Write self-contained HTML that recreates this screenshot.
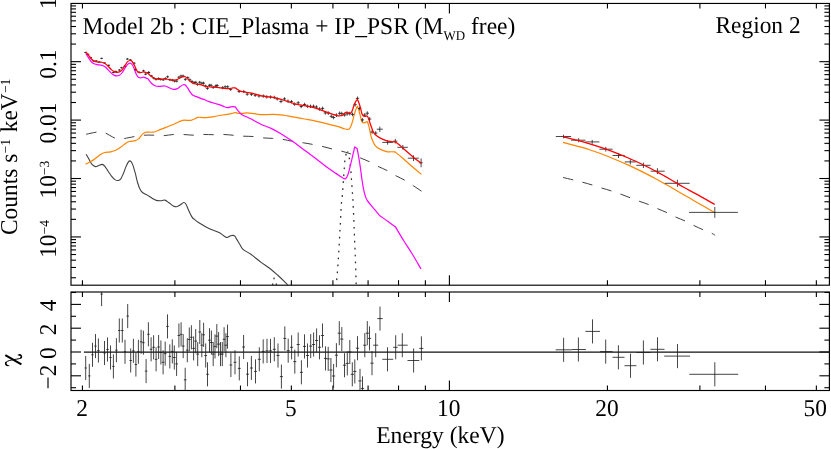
<!DOCTYPE html>
<html><head><meta charset="utf-8"><title>Spectrum</title>
<style>
html,body{margin:0;padding:0;background:#fff;}
svg{display:block;font-family:"Liberation Serif",serif;will-change:transform;opacity:0.999;}
</style></head>
<body>
<svg width="831" height="449" viewBox="0 0 831 449">
<rect x="0" y="0" width="831" height="449" fill="#fff"/>
<rect x="71.0" y="3.45" width="758.40" height="281.75" fill="none" stroke="#000" stroke-width="1.15"/>
<rect x="71.0" y="292.0" width="758.40" height="98.50" fill="none" stroke="#000" stroke-width="1.15"/>
<line x1="82.44" y1="3.45" x2="82.44" y2="8.45" stroke="#000" stroke-width="1.1" />
<line x1="82.44" y1="285.20" x2="82.44" y2="280.20" stroke="#000" stroke-width="1.1" />
<line x1="82.44" y1="292.00" x2="82.44" y2="297.00" stroke="#000" stroke-width="1.1" />
<line x1="82.44" y1="390.50" x2="82.44" y2="385.50" stroke="#000" stroke-width="1.1" />
<line x1="174.89" y1="3.45" x2="174.89" y2="8.45" stroke="#000" stroke-width="1.1" />
<line x1="174.89" y1="285.20" x2="174.89" y2="280.20" stroke="#000" stroke-width="1.1" />
<line x1="174.89" y1="292.00" x2="174.89" y2="297.00" stroke="#000" stroke-width="1.1" />
<line x1="174.89" y1="390.50" x2="174.89" y2="385.50" stroke="#000" stroke-width="1.1" />
<line x1="240.48" y1="3.45" x2="240.48" y2="8.45" stroke="#000" stroke-width="1.1" />
<line x1="240.48" y1="285.20" x2="240.48" y2="280.20" stroke="#000" stroke-width="1.1" />
<line x1="240.48" y1="292.00" x2="240.48" y2="297.00" stroke="#000" stroke-width="1.1" />
<line x1="240.48" y1="390.50" x2="240.48" y2="385.50" stroke="#000" stroke-width="1.1" />
<line x1="291.36" y1="3.45" x2="291.36" y2="8.45" stroke="#000" stroke-width="1.1" />
<line x1="291.36" y1="285.20" x2="291.36" y2="280.20" stroke="#000" stroke-width="1.1" />
<line x1="291.36" y1="292.00" x2="291.36" y2="297.00" stroke="#000" stroke-width="1.1" />
<line x1="291.36" y1="390.50" x2="291.36" y2="385.50" stroke="#000" stroke-width="1.1" />
<line x1="332.93" y1="3.45" x2="332.93" y2="8.45" stroke="#000" stroke-width="1.1" />
<line x1="332.93" y1="285.20" x2="332.93" y2="280.20" stroke="#000" stroke-width="1.1" />
<line x1="332.93" y1="292.00" x2="332.93" y2="297.00" stroke="#000" stroke-width="1.1" />
<line x1="332.93" y1="390.50" x2="332.93" y2="385.50" stroke="#000" stroke-width="1.1" />
<line x1="368.08" y1="3.45" x2="368.08" y2="8.45" stroke="#000" stroke-width="1.1" />
<line x1="368.08" y1="285.20" x2="368.08" y2="280.20" stroke="#000" stroke-width="1.1" />
<line x1="368.08" y1="292.00" x2="368.08" y2="297.00" stroke="#000" stroke-width="1.1" />
<line x1="368.08" y1="390.50" x2="368.08" y2="385.50" stroke="#000" stroke-width="1.1" />
<line x1="398.52" y1="3.45" x2="398.52" y2="8.45" stroke="#000" stroke-width="1.1" />
<line x1="398.52" y1="285.20" x2="398.52" y2="280.20" stroke="#000" stroke-width="1.1" />
<line x1="398.52" y1="292.00" x2="398.52" y2="297.00" stroke="#000" stroke-width="1.1" />
<line x1="398.52" y1="390.50" x2="398.52" y2="385.50" stroke="#000" stroke-width="1.1" />
<line x1="425.38" y1="3.45" x2="425.38" y2="8.45" stroke="#000" stroke-width="1.1" />
<line x1="425.38" y1="285.20" x2="425.38" y2="280.20" stroke="#000" stroke-width="1.1" />
<line x1="425.38" y1="292.00" x2="425.38" y2="297.00" stroke="#000" stroke-width="1.1" />
<line x1="425.38" y1="390.50" x2="425.38" y2="385.50" stroke="#000" stroke-width="1.1" />
<line x1="449.40" y1="3.45" x2="449.40" y2="13.45" stroke="#000" stroke-width="1.1" />
<line x1="449.40" y1="285.20" x2="449.40" y2="275.20" stroke="#000" stroke-width="1.1" />
<line x1="449.40" y1="292.00" x2="449.40" y2="302.00" stroke="#000" stroke-width="1.1" />
<line x1="449.40" y1="390.50" x2="449.40" y2="380.50" stroke="#000" stroke-width="1.1" />
<line x1="607.44" y1="3.45" x2="607.44" y2="8.45" stroke="#000" stroke-width="1.1" />
<line x1="607.44" y1="285.20" x2="607.44" y2="280.20" stroke="#000" stroke-width="1.1" />
<line x1="607.44" y1="292.00" x2="607.44" y2="297.00" stroke="#000" stroke-width="1.1" />
<line x1="607.44" y1="390.50" x2="607.44" y2="385.50" stroke="#000" stroke-width="1.1" />
<line x1="699.89" y1="3.45" x2="699.89" y2="8.45" stroke="#000" stroke-width="1.1" />
<line x1="699.89" y1="285.20" x2="699.89" y2="280.20" stroke="#000" stroke-width="1.1" />
<line x1="699.89" y1="292.00" x2="699.89" y2="297.00" stroke="#000" stroke-width="1.1" />
<line x1="699.89" y1="390.50" x2="699.89" y2="385.50" stroke="#000" stroke-width="1.1" />
<line x1="765.48" y1="3.45" x2="765.48" y2="8.45" stroke="#000" stroke-width="1.1" />
<line x1="765.48" y1="285.20" x2="765.48" y2="280.20" stroke="#000" stroke-width="1.1" />
<line x1="765.48" y1="292.00" x2="765.48" y2="297.00" stroke="#000" stroke-width="1.1" />
<line x1="765.48" y1="390.50" x2="765.48" y2="385.50" stroke="#000" stroke-width="1.1" />
<line x1="816.36" y1="3.45" x2="816.36" y2="8.45" stroke="#000" stroke-width="1.1" />
<line x1="816.36" y1="285.20" x2="816.36" y2="280.20" stroke="#000" stroke-width="1.1" />
<line x1="816.36" y1="292.00" x2="816.36" y2="297.00" stroke="#000" stroke-width="1.1" />
<line x1="816.36" y1="390.50" x2="816.36" y2="385.50" stroke="#000" stroke-width="1.1" />
<line x1="71.00" y1="61.67" x2="81.00" y2="61.67" stroke="#000" stroke-width="1.1" />
<line x1="829.40" y1="61.67" x2="819.40" y2="61.67" stroke="#000" stroke-width="1.1" />
<line x1="71.00" y1="44.08" x2="76.00" y2="44.08" stroke="#000" stroke-width="1.1" />
<line x1="829.40" y1="44.08" x2="824.40" y2="44.08" stroke="#000" stroke-width="1.1" />
<line x1="71.00" y1="33.80" x2="76.00" y2="33.80" stroke="#000" stroke-width="1.1" />
<line x1="829.40" y1="33.80" x2="824.40" y2="33.80" stroke="#000" stroke-width="1.1" />
<line x1="71.00" y1="26.50" x2="76.00" y2="26.50" stroke="#000" stroke-width="1.1" />
<line x1="829.40" y1="26.50" x2="824.40" y2="26.50" stroke="#000" stroke-width="1.1" />
<line x1="71.00" y1="20.84" x2="76.00" y2="20.84" stroke="#000" stroke-width="1.1" />
<line x1="829.40" y1="20.84" x2="824.40" y2="20.84" stroke="#000" stroke-width="1.1" />
<line x1="71.00" y1="16.21" x2="76.00" y2="16.21" stroke="#000" stroke-width="1.1" />
<line x1="829.40" y1="16.21" x2="824.40" y2="16.21" stroke="#000" stroke-width="1.1" />
<line x1="71.00" y1="12.30" x2="76.00" y2="12.30" stroke="#000" stroke-width="1.1" />
<line x1="829.40" y1="12.30" x2="824.40" y2="12.30" stroke="#000" stroke-width="1.1" />
<line x1="71.00" y1="8.91" x2="76.00" y2="8.91" stroke="#000" stroke-width="1.1" />
<line x1="829.40" y1="8.91" x2="824.40" y2="8.91" stroke="#000" stroke-width="1.1" />
<line x1="71.00" y1="5.92" x2="76.00" y2="5.92" stroke="#000" stroke-width="1.1" />
<line x1="829.40" y1="5.92" x2="824.40" y2="5.92" stroke="#000" stroke-width="1.1" />
<line x1="71.00" y1="120.09" x2="81.00" y2="120.09" stroke="#000" stroke-width="1.1" />
<line x1="829.40" y1="120.09" x2="819.40" y2="120.09" stroke="#000" stroke-width="1.1" />
<line x1="71.00" y1="102.50" x2="76.00" y2="102.50" stroke="#000" stroke-width="1.1" />
<line x1="829.40" y1="102.50" x2="824.40" y2="102.50" stroke="#000" stroke-width="1.1" />
<line x1="71.00" y1="92.22" x2="76.00" y2="92.22" stroke="#000" stroke-width="1.1" />
<line x1="829.40" y1="92.22" x2="824.40" y2="92.22" stroke="#000" stroke-width="1.1" />
<line x1="71.00" y1="84.92" x2="76.00" y2="84.92" stroke="#000" stroke-width="1.1" />
<line x1="829.40" y1="84.92" x2="824.40" y2="84.92" stroke="#000" stroke-width="1.1" />
<line x1="71.00" y1="79.26" x2="76.00" y2="79.26" stroke="#000" stroke-width="1.1" />
<line x1="829.40" y1="79.26" x2="824.40" y2="79.26" stroke="#000" stroke-width="1.1" />
<line x1="71.00" y1="74.63" x2="76.00" y2="74.63" stroke="#000" stroke-width="1.1" />
<line x1="829.40" y1="74.63" x2="824.40" y2="74.63" stroke="#000" stroke-width="1.1" />
<line x1="71.00" y1="70.72" x2="76.00" y2="70.72" stroke="#000" stroke-width="1.1" />
<line x1="829.40" y1="70.72" x2="824.40" y2="70.72" stroke="#000" stroke-width="1.1" />
<line x1="71.00" y1="67.33" x2="76.00" y2="67.33" stroke="#000" stroke-width="1.1" />
<line x1="829.40" y1="67.33" x2="824.40" y2="67.33" stroke="#000" stroke-width="1.1" />
<line x1="71.00" y1="64.34" x2="76.00" y2="64.34" stroke="#000" stroke-width="1.1" />
<line x1="829.40" y1="64.34" x2="824.40" y2="64.34" stroke="#000" stroke-width="1.1" />
<line x1="71.00" y1="178.51" x2="81.00" y2="178.51" stroke="#000" stroke-width="1.1" />
<line x1="829.40" y1="178.51" x2="819.40" y2="178.51" stroke="#000" stroke-width="1.1" />
<line x1="71.00" y1="160.92" x2="76.00" y2="160.92" stroke="#000" stroke-width="1.1" />
<line x1="829.40" y1="160.92" x2="824.40" y2="160.92" stroke="#000" stroke-width="1.1" />
<line x1="71.00" y1="150.64" x2="76.00" y2="150.64" stroke="#000" stroke-width="1.1" />
<line x1="829.40" y1="150.64" x2="824.40" y2="150.64" stroke="#000" stroke-width="1.1" />
<line x1="71.00" y1="143.34" x2="76.00" y2="143.34" stroke="#000" stroke-width="1.1" />
<line x1="829.40" y1="143.34" x2="824.40" y2="143.34" stroke="#000" stroke-width="1.1" />
<line x1="71.00" y1="137.68" x2="76.00" y2="137.68" stroke="#000" stroke-width="1.1" />
<line x1="829.40" y1="137.68" x2="824.40" y2="137.68" stroke="#000" stroke-width="1.1" />
<line x1="71.00" y1="133.05" x2="76.00" y2="133.05" stroke="#000" stroke-width="1.1" />
<line x1="829.40" y1="133.05" x2="824.40" y2="133.05" stroke="#000" stroke-width="1.1" />
<line x1="71.00" y1="129.14" x2="76.00" y2="129.14" stroke="#000" stroke-width="1.1" />
<line x1="829.40" y1="129.14" x2="824.40" y2="129.14" stroke="#000" stroke-width="1.1" />
<line x1="71.00" y1="125.75" x2="76.00" y2="125.75" stroke="#000" stroke-width="1.1" />
<line x1="829.40" y1="125.75" x2="824.40" y2="125.75" stroke="#000" stroke-width="1.1" />
<line x1="71.00" y1="122.76" x2="76.00" y2="122.76" stroke="#000" stroke-width="1.1" />
<line x1="829.40" y1="122.76" x2="824.40" y2="122.76" stroke="#000" stroke-width="1.1" />
<line x1="71.00" y1="236.93" x2="81.00" y2="236.93" stroke="#000" stroke-width="1.1" />
<line x1="829.40" y1="236.93" x2="819.40" y2="236.93" stroke="#000" stroke-width="1.1" />
<line x1="71.00" y1="219.34" x2="76.00" y2="219.34" stroke="#000" stroke-width="1.1" />
<line x1="829.40" y1="219.34" x2="824.40" y2="219.34" stroke="#000" stroke-width="1.1" />
<line x1="71.00" y1="209.06" x2="76.00" y2="209.06" stroke="#000" stroke-width="1.1" />
<line x1="829.40" y1="209.06" x2="824.40" y2="209.06" stroke="#000" stroke-width="1.1" />
<line x1="71.00" y1="201.76" x2="76.00" y2="201.76" stroke="#000" stroke-width="1.1" />
<line x1="829.40" y1="201.76" x2="824.40" y2="201.76" stroke="#000" stroke-width="1.1" />
<line x1="71.00" y1="196.10" x2="76.00" y2="196.10" stroke="#000" stroke-width="1.1" />
<line x1="829.40" y1="196.10" x2="824.40" y2="196.10" stroke="#000" stroke-width="1.1" />
<line x1="71.00" y1="191.47" x2="76.00" y2="191.47" stroke="#000" stroke-width="1.1" />
<line x1="829.40" y1="191.47" x2="824.40" y2="191.47" stroke="#000" stroke-width="1.1" />
<line x1="71.00" y1="187.56" x2="76.00" y2="187.56" stroke="#000" stroke-width="1.1" />
<line x1="829.40" y1="187.56" x2="824.40" y2="187.56" stroke="#000" stroke-width="1.1" />
<line x1="71.00" y1="184.17" x2="76.00" y2="184.17" stroke="#000" stroke-width="1.1" />
<line x1="829.40" y1="184.17" x2="824.40" y2="184.17" stroke="#000" stroke-width="1.1" />
<line x1="71.00" y1="181.18" x2="76.00" y2="181.18" stroke="#000" stroke-width="1.1" />
<line x1="829.40" y1="181.18" x2="824.40" y2="181.18" stroke="#000" stroke-width="1.1" />
<line x1="71.00" y1="277.76" x2="76.00" y2="277.76" stroke="#000" stroke-width="1.1" />
<line x1="829.40" y1="277.76" x2="824.40" y2="277.76" stroke="#000" stroke-width="1.1" />
<line x1="71.00" y1="267.48" x2="76.00" y2="267.48" stroke="#000" stroke-width="1.1" />
<line x1="829.40" y1="267.48" x2="824.40" y2="267.48" stroke="#000" stroke-width="1.1" />
<line x1="71.00" y1="260.18" x2="76.00" y2="260.18" stroke="#000" stroke-width="1.1" />
<line x1="829.40" y1="260.18" x2="824.40" y2="260.18" stroke="#000" stroke-width="1.1" />
<line x1="71.00" y1="254.52" x2="76.00" y2="254.52" stroke="#000" stroke-width="1.1" />
<line x1="829.40" y1="254.52" x2="824.40" y2="254.52" stroke="#000" stroke-width="1.1" />
<line x1="71.00" y1="249.89" x2="76.00" y2="249.89" stroke="#000" stroke-width="1.1" />
<line x1="829.40" y1="249.89" x2="824.40" y2="249.89" stroke="#000" stroke-width="1.1" />
<line x1="71.00" y1="245.98" x2="76.00" y2="245.98" stroke="#000" stroke-width="1.1" />
<line x1="829.40" y1="245.98" x2="824.40" y2="245.98" stroke="#000" stroke-width="1.1" />
<line x1="71.00" y1="242.59" x2="76.00" y2="242.59" stroke="#000" stroke-width="1.1" />
<line x1="829.40" y1="242.59" x2="824.40" y2="242.59" stroke="#000" stroke-width="1.1" />
<line x1="71.00" y1="239.60" x2="76.00" y2="239.60" stroke="#000" stroke-width="1.1" />
<line x1="829.40" y1="239.60" x2="824.40" y2="239.60" stroke="#000" stroke-width="1.1" />
<line x1="71.00" y1="387.70" x2="76.00" y2="387.70" stroke="#000" stroke-width="1.1" />
<line x1="829.40" y1="387.70" x2="824.40" y2="387.70" stroke="#000" stroke-width="1.1" />
<line x1="71.00" y1="375.80" x2="81.00" y2="375.80" stroke="#000" stroke-width="1.1" />
<line x1="829.40" y1="375.80" x2="819.40" y2="375.80" stroke="#000" stroke-width="1.1" />
<line x1="71.00" y1="363.90" x2="76.00" y2="363.90" stroke="#000" stroke-width="1.1" />
<line x1="829.40" y1="363.90" x2="824.40" y2="363.90" stroke="#000" stroke-width="1.1" />
<line x1="71.00" y1="352.00" x2="81.00" y2="352.00" stroke="#000" stroke-width="1.1" />
<line x1="829.40" y1="352.00" x2="819.40" y2="352.00" stroke="#000" stroke-width="1.1" />
<line x1="71.00" y1="340.10" x2="76.00" y2="340.10" stroke="#000" stroke-width="1.1" />
<line x1="829.40" y1="340.10" x2="824.40" y2="340.10" stroke="#000" stroke-width="1.1" />
<line x1="71.00" y1="328.20" x2="81.00" y2="328.20" stroke="#000" stroke-width="1.1" />
<line x1="829.40" y1="328.20" x2="819.40" y2="328.20" stroke="#000" stroke-width="1.1" />
<line x1="71.00" y1="316.30" x2="76.00" y2="316.30" stroke="#000" stroke-width="1.1" />
<line x1="829.40" y1="316.30" x2="824.40" y2="316.30" stroke="#000" stroke-width="1.1" />
<line x1="71.00" y1="304.40" x2="81.00" y2="304.40" stroke="#000" stroke-width="1.1" />
<line x1="829.40" y1="304.40" x2="819.40" y2="304.40" stroke="#000" stroke-width="1.1" />
<line x1="71.00" y1="292.50" x2="76.00" y2="292.50" stroke="#000" stroke-width="1.1" />
<line x1="829.40" y1="292.50" x2="824.40" y2="292.50" stroke="#000" stroke-width="1.1" />
<text transform="translate(82.60 33.50) skewX(0.1) scale(1.0 1.03)" font-size="23.54" text-anchor="start" >Model 2b : CIE_Plasma + IP_PSR (M<tspan font-size="13.0" dy="6.0">WD</tspan><tspan dy="-6.0"> free)</tspan></text>
<text transform="translate(800.60 33.40) skewX(0.1) scale(1.0 1.03)" font-size="23.4" text-anchor="end" >Region 2</text>
<text transform="translate(440.40 443.20) skewX(0.1) scale(1.008 1.03)" font-size="23.4" text-anchor="middle" >Energy (keV)</text>
<text transform="translate(82.04 415.70) skewX(0.1) scale(1.0 1.03)" font-size="23.4" text-anchor="middle" >2</text>
<text transform="translate(290.96 415.70) skewX(0.1) scale(1.0 1.03)" font-size="23.4" text-anchor="middle" >5</text>
<text transform="translate(448.70 415.70) skewX(0.1) scale(1.0 1.03)" font-size="23.4" text-anchor="middle" >10</text>
<text transform="translate(606.94 415.70) skewX(0.1) scale(1.0 1.03)" font-size="23.4" text-anchor="middle" >20</text>
<text transform="translate(815.16 415.70) skewX(0.1) scale(1.0 1.03)" font-size="23.4" text-anchor="middle" >50</text>
<text transform="translate(56.10 3.25) rotate(-90) skewX(0.1) scale(1.0 1.03)" font-size="23.4" text-anchor="middle" >1</text>
<text transform="translate(56.10 64.10) rotate(-90) skewX(0.1) scale(1.0 1.03)" font-size="23.4" text-anchor="middle" >0.1</text>
<text transform="translate(56.10 123.10) rotate(-90) skewX(0.1) scale(1.0 1.03)" font-size="23.4" text-anchor="middle" >0.01</text>
<text transform="translate(56.10 179.61) rotate(-90) skewX(0.1) scale(1.0 1.03)" font-size="23.4" text-anchor="middle" >10<tspan font-size="13.6" dy="-6.9">−3</tspan></text>
<text transform="translate(56.10 238.93) rotate(-90) skewX(0.1) scale(1.0 1.03)" font-size="23.4" text-anchor="middle" >10<tspan font-size="13.6" dy="-6.9">−4</tspan></text>
<text transform="translate(17.00 235.00) rotate(-90) skewX(0.1) scale(1.0 1.03)" font-size="23.4" text-anchor="start" >Counts s<tspan font-size="13.6" dy="-6.9" dx="0.3">−1</tspan><tspan dy="6.9" dx="0.8"> keV</tspan><tspan font-size="13.6" dy="-6.9" dx="0.3">−1</tspan></text>
<text transform="translate(56.10 305.50) rotate(-90) skewX(0.1) scale(1.0 1.03)" font-size="23.4" text-anchor="middle" >4</text>
<text transform="translate(56.10 329.30) rotate(-90) skewX(0.1) scale(1.0 1.03)" font-size="23.4" text-anchor="middle" >2</text>
<text transform="translate(56.10 353.10) rotate(-90) skewX(0.1) scale(1.0 1.03)" font-size="23.4" text-anchor="middle" >0</text>
<text transform="translate(56.10 377.10) rotate(-90) skewX(0.1) scale(1.0 1.03)" font-size="23.4" text-anchor="middle" >−2</text>
<path d="M5.3,355.1 L21.4,364.3" stroke="#000" stroke-width="2.1" fill="none"/>
<path d="M18.2,354.9 C19.8,354.6 21.6,355.4 21.6,356.9 C21.6,358.5 18.6,358.8 16.2,359.2 C13,359.8 9.5,360.3 7.6,361.2 C5.8,362 5.3,363.2 5.9,364.3 C6.5,365.3 7.8,365.7 8.9,365.7" stroke="#000" stroke-width="1.0" fill="none" stroke-linecap="round"/>
<path d="M19.6,354.9 C21.2,355.2 21.9,356.6 21.0,357.8" stroke="#000" stroke-width="1.6" fill="none" stroke-linecap="round"/>
<path d="M7.3,365.4 C5.9,365.0 5.2,363.7 6.1,362.4" stroke="#000" stroke-width="1.6" fill="none" stroke-linecap="round"/>
<line x1="83.90" y1="352.14" x2="829.40" y2="352.14" stroke="#111" stroke-width="1.05" />
<clipPath id="cp1"><rect x="71" y="3.4" width="758.4" height="281.8"/></clipPath>
<g clip-path="url(#cp1)">
<path d="M347.20,151.50L345.10,157.00L343.80,175.00L342.40,195.00L341.30,204.50L340.20,226.70L339.00,247.90L337.70,269.00L336.20,285.30" fill="none" stroke="#262626" stroke-width="1.25" stroke-dasharray="1.7 5.25" stroke-dashoffset="-2.48" stroke-linejoin="round" />
<path d="M347.60,151.50L348.90,155.00L350.80,170.00L352.80,198.20L353.70,216.10L354.50,237.30L355.40,258.40L356.20,285.30" fill="none" stroke="#262626" stroke-width="1.25" stroke-dasharray="1.7 5.25" stroke-dashoffset="-6.36" stroke-linejoin="round" />
<path d="M273.90,277.60L274.10,279.30" fill="none" stroke="#262626" stroke-width="1.25" stroke-linejoin="round" />
<path d="M272.70,283.60L272.70,285.00" fill="none" stroke="#262626" stroke-width="1.25" stroke-linejoin="round" />
<path d="M276.40,283.60L276.40,285.00" fill="none" stroke="#262626" stroke-width="1.25" stroke-linejoin="round" />
<path d="M85.60,134.40C86.50,134.20 89.23,133.57 91.00,133.20C92.77,132.83 94.62,132.45 96.20,132.20C97.78,131.95 99.08,131.62 100.50,131.70C101.92,131.78 103.15,132.08 104.70,132.70C106.25,133.32 108.10,134.50 109.80,135.40C111.50,136.30 113.28,137.47 114.90,138.10C116.52,138.73 117.95,139.12 119.50,139.20C121.05,139.28 121.73,139.03 124.20,138.60C126.67,138.17 131.07,137.17 134.30,136.60C137.53,136.03 140.35,135.43 143.60,135.20C146.85,134.97 150.55,135.12 153.80,135.20C157.05,135.28 159.85,135.82 163.10,135.70C166.35,135.58 169.92,134.70 173.30,134.50C176.68,134.30 180.02,134.38 183.40,134.50C186.78,134.62 190.27,135.20 193.60,135.20C196.93,135.20 200.08,134.58 203.40,134.50C206.72,134.42 210.12,134.70 213.50,134.70C216.88,134.70 220.30,134.40 223.70,134.50C227.10,134.60 230.65,135.02 233.90,135.30C237.15,135.58 239.97,136.00 243.20,136.20C246.43,136.40 249.92,136.22 253.30,136.50C256.68,136.78 260.25,137.58 263.50,137.90C266.75,138.22 269.55,138.15 272.80,138.40C276.05,138.65 279.75,138.92 283.00,139.40C286.25,139.88 288.92,140.73 292.30,141.30C295.68,141.87 299.92,142.28 303.30,142.80C306.68,143.32 309.45,143.80 312.60,144.40C315.75,145.00 318.92,145.63 322.20,146.40C325.48,147.17 329.07,148.20 332.30,149.00C335.53,149.80 338.63,150.42 341.60,151.20C344.57,151.98 346.98,152.58 350.10,153.70C353.22,154.82 357.05,156.55 360.30,157.90C363.55,159.25 366.65,160.38 369.60,161.80C372.55,163.22 375.05,164.93 378.00,166.40C380.95,167.87 384.33,169.05 387.30,170.60C390.27,172.15 392.83,174.07 395.80,175.70C398.77,177.33 402.13,178.70 405.10,180.40C408.07,182.10 410.83,184.08 413.60,185.90C416.37,187.72 420.35,190.40 421.70,191.30" fill="none" stroke="#404040" stroke-width="1.0" stroke-dasharray="10.3 9.6" stroke-dashoffset="-0.8" stroke-linejoin="round" />
<path d="M563.10,177.50C564.85,177.92 570.38,179.22 573.60,180.00C576.82,180.78 579.23,181.35 582.40,182.20C585.57,183.05 589.40,184.13 592.60,185.10C595.80,186.07 598.42,187.02 601.60,188.00C604.78,188.98 608.52,189.98 611.70,191.00C614.88,192.02 617.60,192.97 620.70,194.10C623.80,195.23 627.08,196.57 630.30,197.80C633.52,199.03 636.97,200.38 640.00,201.50C643.03,202.62 645.60,203.32 648.50,204.50C651.40,205.68 654.30,207.23 657.40,208.60C660.50,209.97 664.07,211.30 667.10,212.70C670.13,214.10 672.55,215.60 675.60,217.00C678.65,218.40 682.37,219.68 685.40,221.10C688.43,222.52 690.77,224.02 693.80,225.50C696.83,226.98 700.55,228.67 703.60,230.00C706.65,231.33 710.18,232.62 712.10,233.50C714.02,234.38 714.60,235.00 715.10,235.30" fill="none" stroke="#404040" stroke-width="1.0" stroke-dasharray="10.3 9.6" stroke-linejoin="round" />
<path d="M86.10,154.20C86.52,154.92 87.62,156.80 88.60,158.50C89.58,160.20 90.87,163.05 92.00,164.40C93.13,165.75 94.27,166.40 95.40,166.60C96.53,166.80 97.67,165.97 98.80,165.60C99.93,165.23 101.22,164.32 102.20,164.40C103.18,164.48 103.72,164.97 104.70,166.10C105.68,167.23 106.97,169.52 108.10,171.20C109.23,172.88 110.37,174.80 111.50,176.20C112.63,177.60 113.78,178.88 114.90,179.60C116.02,180.32 117.22,180.63 118.20,180.50C119.18,180.37 119.95,179.93 120.80,178.80C121.65,177.67 122.45,175.68 123.30,173.70C124.15,171.72 125.05,168.87 125.90,166.90C126.75,164.93 127.65,162.88 128.40,161.90C129.15,160.92 129.70,160.58 130.40,161.00C131.10,161.42 131.80,162.42 132.60,164.40C133.40,166.38 134.35,169.80 135.20,172.90C136.05,176.00 136.85,180.18 137.70,183.00C138.55,185.82 139.45,188.18 140.30,189.80C141.15,191.42 141.68,191.85 142.80,192.70C143.92,193.55 145.45,193.98 147.00,194.90C148.55,195.82 150.55,197.28 152.10,198.20C153.65,199.12 154.88,199.97 156.30,200.40C157.72,200.83 159.18,200.85 160.60,200.80C162.02,200.75 163.40,199.77 164.80,200.10C166.20,200.43 167.58,201.83 169.00,202.80C170.42,203.77 172.02,205.25 173.30,205.90C174.58,206.55 175.58,206.85 176.70,206.70C177.82,206.55 178.82,205.70 180.00,205.00C181.18,204.30 182.80,202.63 183.80,202.50C184.80,202.37 185.22,202.93 186.00,204.20C186.78,205.47 187.52,207.98 188.50,210.10C189.48,212.22 190.92,215.35 191.90,216.90C192.88,218.45 193.30,218.47 194.40,219.40C195.50,220.33 196.70,221.33 198.50,222.50C200.30,223.67 202.95,225.18 205.20,226.40C207.45,227.62 209.60,228.75 212.00,229.80C214.40,230.85 217.20,231.43 219.60,232.70C222.00,233.97 224.57,236.90 226.40,237.40C228.23,237.90 229.27,235.98 230.60,235.70C231.93,235.42 233.40,235.13 234.40,235.70C235.40,236.27 235.68,237.63 236.60,239.10C237.52,240.57 238.78,242.75 239.90,244.50C241.02,246.25 241.47,247.97 243.30,249.60C245.13,251.23 247.93,252.17 250.90,254.30C253.87,256.43 257.98,260.08 261.10,262.40C264.22,264.72 266.78,266.02 269.60,268.20C272.42,270.38 275.60,273.35 278.00,275.50C280.40,277.65 282.37,279.50 284.00,281.10C285.63,282.70 287.17,284.43 287.80,285.10" fill="none" stroke="#404040" stroke-width="1.1" stroke-linejoin="round" />
<path d="M85.60,164.30C86.38,163.88 88.67,162.78 90.30,161.80C91.93,160.82 93.70,159.62 95.40,158.40C97.10,157.18 98.95,155.48 100.50,154.50C102.05,153.52 103.02,152.95 104.70,152.50C106.38,152.05 108.77,152.17 110.60,151.80C112.43,151.43 114.00,151.08 115.70,150.30C117.40,149.52 119.10,148.28 120.80,147.10C122.50,145.92 124.48,144.13 125.90,143.20C127.32,142.27 127.75,141.93 129.30,141.50C130.85,141.07 133.65,141.03 135.20,140.60C136.75,140.17 137.33,140.02 138.60,138.90C139.87,137.78 141.53,135.02 142.80,133.90C144.07,132.78 144.50,132.48 146.20,132.20C147.90,131.92 151.03,132.48 153.00,132.20C154.97,131.92 155.75,131.35 158.00,130.50C160.25,129.65 163.67,128.23 166.50,127.10C169.33,125.97 172.32,124.83 175.00,123.70C177.68,122.57 179.93,120.87 182.60,120.30C185.27,119.73 188.47,120.78 191.00,120.30C193.53,119.82 195.80,117.85 197.80,117.40C199.80,116.95 201.22,117.60 203.00,117.60C204.78,117.60 206.18,117.67 208.50,117.40C210.82,117.13 213.80,116.52 216.90,116.00C220.00,115.48 224.58,114.73 227.10,114.30C229.62,113.87 230.68,113.68 232.00,113.40C233.32,113.12 234.00,112.62 235.00,112.60C236.00,112.58 236.78,113.17 238.00,113.30C239.22,113.43 240.73,113.47 242.30,113.40C243.87,113.33 245.42,112.85 247.40,112.90C249.38,112.95 251.67,113.40 254.20,113.70C256.73,114.00 259.50,114.58 262.60,114.70C265.70,114.82 269.40,114.32 272.80,114.40C276.20,114.48 279.88,114.82 283.00,115.20C286.12,115.58 288.68,116.20 291.50,116.70C294.32,117.20 297.08,117.70 299.90,118.20C302.72,118.70 305.57,119.17 308.40,119.70C311.23,120.23 314.08,120.80 316.90,121.40C319.72,122.00 322.62,122.65 325.30,123.30C327.98,123.95 330.55,124.67 333.00,125.30C335.45,125.93 338.13,126.52 340.00,127.10C341.87,127.68 342.93,128.42 344.20,128.80C345.47,129.18 346.75,129.40 347.60,129.40C348.45,129.40 348.73,129.38 349.30,128.80C349.87,128.22 350.43,127.23 351.00,125.90C351.57,124.57 352.13,122.78 352.70,120.80C353.27,118.82 353.83,115.98 354.40,114.00C354.97,112.02 355.60,110.20 356.10,108.90C356.60,107.60 357.18,106.65 357.40,106.20C357.60,106.73 358.12,107.82 358.60,109.40C359.08,110.98 359.80,113.80 360.30,115.70C360.80,117.60 361.20,119.63 361.60,120.80C362.00,121.97 362.20,122.38 362.70,122.70C363.20,123.02 363.87,122.88 364.60,122.70C365.33,122.52 366.47,121.28 367.10,121.60C367.73,121.92 367.98,123.32 368.40,124.60C368.82,125.88 369.18,127.43 369.60,129.30C370.02,131.17 370.37,133.85 370.90,135.80C371.43,137.75 372.05,139.33 372.80,141.00C373.55,142.67 374.12,144.40 375.40,145.80C376.68,147.20 378.62,148.43 380.50,149.40C382.38,150.37 384.95,151.21 386.70,151.60C388.45,151.99 389.62,151.72 391.00,151.75C392.38,151.78 394.33,151.79 395.00,151.80C396.30,152.88 399.72,155.63 402.80,158.30C405.88,160.97 410.38,165.12 413.50,167.80C416.62,170.48 420.17,173.30 421.50,174.40" fill="none" stroke="#ff8400" stroke-width="1.2" stroke-linejoin="round" />
<path d="M563.10,142.40C565.13,142.95 571.00,144.52 575.30,145.70C579.60,146.88 584.38,148.07 588.90,149.50C593.42,150.93 597.90,152.60 602.40,154.30C606.90,156.00 611.38,157.82 615.90,159.70C620.42,161.58 624.98,163.53 629.50,165.60C634.02,167.67 638.48,169.83 643.00,172.10C647.52,174.37 652.08,176.75 656.60,179.20C661.12,181.65 665.58,184.22 670.10,186.80C674.62,189.38 679.22,192.10 683.70,194.70C688.18,197.30 691.82,199.40 697.00,202.40C702.18,205.40 711.83,210.98 714.80,212.70" fill="none" stroke="#ff8400" stroke-width="1.2" stroke-linejoin="round" />
<path d="M85.90,53.50C86.33,54.20 87.65,56.40 88.50,57.70C89.35,59.00 90.17,60.32 91.00,61.30C91.83,62.28 92.52,63.03 93.50,63.60C94.48,64.17 95.62,64.43 96.90,64.70C98.18,64.97 99.92,64.88 101.20,65.20C102.48,65.52 103.48,65.87 104.60,66.60C105.72,67.33 106.78,68.52 107.90,69.60C109.02,70.68 110.30,72.18 111.30,73.10C112.30,74.02 113.05,74.63 113.90,75.10C114.75,75.57 115.48,75.87 116.40,75.90C117.32,75.93 118.42,75.87 119.40,75.30C120.38,74.73 121.38,73.67 122.30,72.50C123.22,71.33 124.05,69.62 124.90,68.30C125.75,66.98 126.55,65.45 127.40,64.60C128.25,63.75 129.22,63.22 130.00,63.20C130.78,63.18 131.40,63.58 132.10,64.50C132.80,65.42 133.50,67.08 134.20,68.70C134.90,70.32 135.60,72.78 136.30,74.20C137.00,75.62 137.62,76.58 138.40,77.20C139.18,77.82 140.15,77.90 141.00,77.90C141.85,77.90 142.52,77.12 143.50,77.20C144.48,77.28 146.15,78.12 146.90,78.40C147.65,78.68 147.25,78.10 148.00,78.90C148.75,79.70 150.13,82.02 151.40,83.20C152.67,84.38 154.18,85.48 155.60,86.00C157.02,86.52 158.35,86.30 159.90,86.30C161.45,86.30 163.35,85.75 164.90,86.00C166.45,86.25 167.78,87.25 169.20,87.80C170.62,88.35 172.13,89.12 173.40,89.30C174.67,89.48 175.67,89.35 176.80,88.90C177.93,88.45 179.15,87.30 180.20,86.60C181.25,85.90 182.25,84.97 183.10,84.70C183.95,84.43 184.52,84.42 185.30,85.00C186.08,85.58 186.97,86.98 187.80,88.20C188.63,89.42 189.45,91.13 190.30,92.30C191.15,93.47 191.77,94.43 192.90,95.20C194.03,95.97 195.70,96.33 197.10,96.90C198.50,97.47 200.03,98.12 201.30,98.60C202.57,99.08 203.42,99.30 204.70,99.80C205.98,100.30 207.28,100.98 209.00,101.60C210.72,102.22 213.15,102.95 215.00,103.50C216.85,104.05 218.55,104.37 220.10,104.90C221.65,105.43 223.03,106.25 224.30,106.70C225.57,107.15 226.43,107.60 227.70,107.60C228.97,107.60 230.68,106.82 231.90,106.70C233.12,106.58 234.17,106.47 235.00,106.90C235.83,107.33 236.18,108.42 236.90,109.30C237.62,110.18 238.40,111.27 239.30,112.20C240.20,113.13 240.38,113.80 242.30,114.90C244.22,116.00 247.70,117.25 250.80,118.80C253.90,120.35 257.52,122.60 260.90,124.20C264.28,125.80 267.70,126.77 271.10,128.40C274.50,130.03 277.92,131.97 281.30,134.00C284.68,136.03 288.25,138.45 291.40,140.60C294.55,142.75 297.05,144.58 300.20,146.90C303.35,149.22 306.92,151.95 310.30,154.50C313.68,157.05 317.12,159.65 320.50,162.20C323.88,164.75 327.22,167.40 330.60,169.80C333.98,172.20 338.52,175.12 340.80,176.60C343.08,178.08 343.50,178.37 344.30,178.70C345.10,179.03 345.17,178.88 345.60,178.60C346.03,178.32 346.37,178.13 346.90,177.00C347.43,175.87 347.98,174.70 348.80,171.80C349.62,168.90 350.85,163.58 351.80,159.60C352.75,155.62 353.97,149.97 354.50,147.90C355.03,145.83 354.92,147.32 355.00,147.20L357.10,148.40C357.35,149.73 358.07,153.27 358.60,156.40C359.13,159.53 359.75,163.42 360.30,167.20C360.85,170.98 361.35,175.42 361.90,179.10C362.45,182.78 363.03,186.48 363.60,189.30C364.17,192.12 364.70,194.17 365.30,196.00C365.90,197.83 365.92,198.35 367.20,200.30C368.48,202.25 370.88,205.13 373.00,207.70C375.12,210.27 378.75,214.37 379.90,215.70C381.38,216.77 386.18,220.20 388.80,222.10C391.42,224.00 394.47,226.27 395.60,227.10C396.93,229.33 400.85,236.05 403.60,240.50C406.35,244.95 409.20,249.05 412.10,253.80C415.00,258.55 419.52,266.47 421.00,269.00" fill="none" stroke="#ff00ff" stroke-width="1.2" stroke-linejoin="round" />
</g>
<g clip-path="url(#cp1)">
<path d="M84.20,52.50H86.80M85.50,51.80V53.20" stroke="#202020" stroke-width="0.82" fill="none"/>
<path d="M100.28,58.40H102.92M101.60,57.65V59.15" stroke="#202020" stroke-width="0.82" fill="none"/>
<path d="M107.47,65.30H110.13M108.80,64.49V66.11" stroke="#202020" stroke-width="0.82" fill="none"/>
<path d="M112.06,72.50H114.74M113.40,71.66V73.34" stroke="#202020" stroke-width="0.82" fill="none"/>
<path d="M118.05,70.00H120.75M119.40,69.11V70.89" stroke="#202020" stroke-width="0.82" fill="none"/>
<path d="M120.15,67.70H122.85M121.50,66.79V68.61" stroke="#202020" stroke-width="0.82" fill="none"/>
<path d="M126.04,59.00H128.76M127.40,58.05V59.95" stroke="#202020" stroke-width="0.82" fill="none"/>
<path d="M132.83,63.20H135.57M134.20,62.20V64.20" stroke="#202020" stroke-width="0.82" fill="none"/>
<path d="M134.13,69.60H136.87M135.50,68.58V70.61" stroke="#202020" stroke-width="0.82" fill="none"/>
<path d="M142.12,70.80H144.88M143.50,69.72V71.88" stroke="#202020" stroke-width="0.82" fill="none"/>
<path d="M144.22,74.20H146.98M145.60,73.11V75.29" stroke="#202020" stroke-width="0.82" fill="none"/>
<path d="M147.21,72.50H149.99M148.60,71.38V73.62" stroke="#202020" stroke-width="0.82" fill="none"/>
<path d="M147.41,72.60H150.19M148.80,71.48V73.72" stroke="#202020" stroke-width="0.82" fill="none"/>
<path d="M150.21,76.00H152.99M151.60,74.86V77.14" stroke="#202020" stroke-width="0.82" fill="none"/>
<path d="M152.40,78.20H155.20M153.80,77.04V79.36" stroke="#202020" stroke-width="0.82" fill="none"/>
<path d="M154.60,79.40H157.40M156.00,78.23V80.57" stroke="#202020" stroke-width="0.82" fill="none"/>
<path d="M157.20,78.50H160.00M158.60,77.31V79.69" stroke="#202020" stroke-width="0.82" fill="none"/>
<path d="M159.29,79.40H162.11M160.70,78.19V80.61" stroke="#202020" stroke-width="0.82" fill="none"/>
<path d="M161.79,79.80H164.61M163.20,78.57V81.03" stroke="#202020" stroke-width="0.82" fill="none"/>
<path d="M163.99,78.50H166.81M165.40,77.25V79.75" stroke="#202020" stroke-width="0.82" fill="none"/>
<path d="M166.18,76.80H169.02M167.60,75.54V78.06" stroke="#202020" stroke-width="0.82" fill="none"/>
<path d="M168.58,79.80H171.42M170.00,78.52V81.08" stroke="#202020" stroke-width="0.82" fill="none"/>
<path d="M171.18,80.20H174.02M172.60,78.90V81.50" stroke="#202020" stroke-width="0.82" fill="none"/>
<path d="M173.27,81.10H176.13M174.70,79.78V82.42" stroke="#202020" stroke-width="0.82" fill="none"/>
<path d="M175.37,81.10H178.23M176.80,79.76V82.44" stroke="#202020" stroke-width="0.82" fill="none"/>
<path d="M177.47,77.20H180.33M178.90,75.85V78.55" stroke="#202020" stroke-width="0.82" fill="none"/>
<path d="M179.57,76.00H182.43M181.00,74.63V77.37" stroke="#202020" stroke-width="0.82" fill="none"/>
<path d="M181.66,76.00H184.54M183.10,74.61V77.39" stroke="#202020" stroke-width="0.82" fill="none"/>
<path d="M183.86,79.40H186.74M185.30,78.00V80.80" stroke="#202020" stroke-width="0.82" fill="none"/>
<path d="M186.36,77.70H189.24M187.80,76.29V79.11" stroke="#202020" stroke-width="0.82" fill="none"/>
<path d="M188.45,79.80H191.35M189.90,78.39V81.21" stroke="#202020" stroke-width="0.82" fill="none"/>
<path d="M190.55,81.50H193.45M192.00,80.08V82.92" stroke="#202020" stroke-width="0.82" fill="none"/>
<path d="M192.65,82.70H195.55M194.10,81.28V84.12" stroke="#202020" stroke-width="0.82" fill="none"/>
<path d="M194.34,82.30H197.26M195.80,80.87V83.73" stroke="#202020" stroke-width="0.82" fill="none"/>
<path d="M196.04,84.40H198.96M197.50,82.97V85.83" stroke="#202020" stroke-width="0.82" fill="none"/>
<path d="M198.24,82.30H201.16M199.70,80.86V83.74" stroke="#202020" stroke-width="0.82" fill="none"/>
<path d="M200.34,83.20H203.26M201.80,81.76V84.64" stroke="#202020" stroke-width="0.82" fill="none"/>
<path d="M202.03,83.20H204.97M203.50,81.75V84.65" stroke="#202020" stroke-width="0.82" fill="none"/>
<path d="M204.13,86.10H207.07M205.60,84.65V87.55" stroke="#202020" stroke-width="0.82" fill="none"/>
<path d="M205.93,88.40H208.87M207.40,86.94V89.86" stroke="#202020" stroke-width="0.82" fill="none"/>
<path d="M207.93,85.30H210.87M209.40,83.83V86.77" stroke="#202020" stroke-width="0.82" fill="none"/>
<path d="M209.62,85.30H212.58M211.10,83.83V86.77" stroke="#202020" stroke-width="0.82" fill="none"/>
<path d="M211.72,87.40H214.68M213.20,85.92V88.88" stroke="#202020" stroke-width="0.82" fill="none"/>
<path d="M214.22,86.10H217.18M215.70,84.62V87.58" stroke="#202020" stroke-width="0.82" fill="none"/>
<path d="M215.62,85.50H218.58M217.10,84.01V86.99" stroke="#202020" stroke-width="0.82" fill="none"/>
<path d="M221.11,87.70H224.09M222.60,86.20V89.20" stroke="#202020" stroke-width="0.82" fill="none"/>
<path d="M223.70,86.80H226.70M225.20,85.29V88.31" stroke="#202020" stroke-width="0.82" fill="none"/>
<path d="M226.20,86.80H229.20M227.70,85.29V88.31" stroke="#202020" stroke-width="0.82" fill="none"/>
<path d="M229.20,89.40H232.20M230.70,87.88V90.92" stroke="#202020" stroke-width="0.82" fill="none"/>
<path d="M237.58,91.50H240.62M239.10,89.96V93.04" stroke="#202020" stroke-width="0.82" fill="none"/>
<path d="M242.28,91.50H245.32M243.80,89.94V93.06" stroke="#202020" stroke-width="0.82" fill="none"/>
<path d="M245.67,94.20H248.73M247.20,92.63V95.77" stroke="#202020" stroke-width="0.82" fill="none"/>
<path d="M249.87,94.40H252.93M251.40,92.82V95.98" stroke="#202020" stroke-width="0.82" fill="none"/>
<path d="M253.66,95.30H256.74M255.20,93.71V96.89" stroke="#202020" stroke-width="0.82" fill="none"/>
<path d="M257.46,96.00H260.54M259.00,94.40V97.60" stroke="#202020" stroke-width="0.82" fill="none"/>
<path d="M261.75,96.10H264.85M263.30,94.49V97.71" stroke="#202020" stroke-width="0.82" fill="none"/>
<path d="M265.25,96.90H268.35M266.80,95.28V98.52" stroke="#202020" stroke-width="0.82" fill="none"/>
<path d="M268.94,97.00H272.06M270.50,95.37V98.63" stroke="#202020" stroke-width="0.82" fill="none"/>
<path d="M272.73,97.40H275.87M274.30,95.76V99.04" stroke="#202020" stroke-width="0.82" fill="none"/>
<path d="M275.63,98.90H278.77M277.20,97.25V100.55" stroke="#202020" stroke-width="0.82" fill="none"/>
<path d="M279.43,101.50H282.57M281.00,99.84V103.16" stroke="#202020" stroke-width="0.82" fill="none"/>
<path d="M282.92,98.90H286.08M284.50,97.23V100.57" stroke="#202020" stroke-width="0.82" fill="none"/>
<path d="M286.42,101.20H289.58M288.00,99.53V102.87" stroke="#202020" stroke-width="0.82" fill="none"/>
<path d="M289.91,101.70H293.09M291.50,100.02V103.38" stroke="#202020" stroke-width="0.82" fill="none"/>
<path d="M292.81,104.20H295.99M294.40,102.51V105.89" stroke="#202020" stroke-width="0.82" fill="none"/>
<path d="M296.60,102.80H299.80M298.20,101.10V104.50" stroke="#202020" stroke-width="0.82" fill="none"/>
<path d="M299.60,106.50H302.80M301.20,104.79V108.21" stroke="#202020" stroke-width="0.82" fill="none"/>
<path d="M302.99,104.50H306.21M304.60,102.78V106.22" stroke="#202020" stroke-width="0.82" fill="none"/>
<path d="M305.99,106.30H309.21M307.60,104.57V108.03" stroke="#202020" stroke-width="0.82" fill="none"/>
<path d="M308.88,106.30H312.12M310.50,104.57V108.03" stroke="#202020" stroke-width="0.82" fill="none"/>
<path d="M311.88,106.30H315.12M313.50,104.56V108.04" stroke="#202020" stroke-width="0.82" fill="none"/>
<path d="M314.78,107.00H318.02M316.40,105.25V108.75" stroke="#202020" stroke-width="0.82" fill="none"/>
<path d="M317.97,109.00H321.23M319.60,107.24V110.76" stroke="#202020" stroke-width="0.82" fill="none"/>
<path d="M320.97,108.40H324.23M322.60,106.63V110.17" stroke="#202020" stroke-width="0.82" fill="none"/>
<path d="M323.66,112.90H326.94M325.30,111.13V114.67" stroke="#202020" stroke-width="0.82" fill="none"/>
<path d="M326.66,113.10H329.94M328.30,111.32V114.88" stroke="#202020" stroke-width="0.82" fill="none"/>
<path d="M329.66,116.30H332.94M331.30,114.51V118.09" stroke="#202020" stroke-width="0.82" fill="none"/>
<path d="M331.95,117.50H335.25M333.60,115.70V119.30" stroke="#202020" stroke-width="0.82" fill="none"/>
<path d="M334.85,115.20H338.15M336.50,113.40V117.00" stroke="#202020" stroke-width="0.82" fill="none"/>
<path d="M338.04,113.30H341.36M339.70,111.49V115.11" stroke="#202020" stroke-width="0.82" fill="none"/>
<path d="M340.14,113.60H343.46M341.80,111.78V115.42" stroke="#202020" stroke-width="0.82" fill="none"/>
<path d="M343.04,114.90H346.36M344.70,113.07V116.73" stroke="#202020" stroke-width="0.82" fill="none"/>
<path d="M345.53,113.80H348.87M347.20,111.97V115.63" stroke="#202020" stroke-width="0.82" fill="none"/>
<path d="M348.03,113.60H351.37M349.70,111.76V115.44" stroke="#202020" stroke-width="0.82" fill="none"/>
<path d="M350.83,114.40H354.17M352.50,112.55V116.25" stroke="#202020" stroke-width="0.82" fill="none"/>
<path d="M353.42,104.70H356.78M355.10,102.85V106.55" stroke="#202020" stroke-width="0.82" fill="none"/>
<path d="M355.82,98.40H359.18M357.50,96.54V100.26" stroke="#202020" stroke-width="0.82" fill="none"/>
<path d="M357.92,108.50H361.28M359.60,106.63V110.37" stroke="#202020" stroke-width="0.82" fill="none"/>
<path d="M360.71,119.90H364.09M362.40,118.03V121.77" stroke="#202020" stroke-width="0.82" fill="none"/>
<path d="M363.01,115.00H366.39M364.70,113.12V116.88" stroke="#202020" stroke-width="0.82" fill="none"/>
<path d="M365.60,113.20H369.00M367.30,111.31V115.09" stroke="#202020" stroke-width="0.82" fill="none"/>
<path d="M367.90,119.10H371.30M369.60,117.21V120.99" stroke="#202020" stroke-width="0.82" fill="none"/>
<path d="M370.40,132.00H373.80M372.10,130.10V133.90" stroke="#202020" stroke-width="0.82" fill="none"/>
<path d="M373.99,133.10H377.41M375.70,131.19V135.01" stroke="#202020" stroke-width="0.82" fill="none"/>
<path d="M86.70,54.28H89.30M88.00,53.58V54.98" stroke="#202020" stroke-width="0.82" fill="none"/>
<path d="M89.44,57.61H92.06M90.75,56.91V58.31" stroke="#202020" stroke-width="0.82" fill="none"/>
<path d="M92.20,60.94H94.82M93.51,60.24V61.64" stroke="#202020" stroke-width="0.82" fill="none"/>
<path d="M94.96,60.92H97.60M96.28,60.21V61.63" stroke="#202020" stroke-width="0.82" fill="none"/>
<path d="M97.74,62.06H100.38M99.06,61.33V62.79" stroke="#202020" stroke-width="0.82" fill="none"/>
<path d="M103.32,63.03H105.98M104.65,62.25V63.80" stroke="#202020" stroke-width="0.82" fill="none"/>
<path d="M114.61,71.43H117.30M115.95,70.57V72.30" stroke="#202020" stroke-width="0.82" fill="none"/>
<path d="M123.19,66.25H125.90M124.54,65.32V67.18" stroke="#202020" stroke-width="0.82" fill="none"/>
<path d="M128.95,59.91H131.68M130.32,58.94V60.89" stroke="#202020" stroke-width="0.82" fill="none"/>
<path d="M137.68,72.24H140.44M139.06,71.20V73.29" stroke="#202020" stroke-width="0.82" fill="none"/>
<path d="M376.80,129.20H382.80M379.80,126.60V131.80" stroke="#202020" stroke-width="0.82" fill="none"/>
<path d="M382.30,142.40H393.00M387.60,140.10V144.70" stroke="#202020" stroke-width="0.82" fill="none"/>
<path d="M393.00,141.20H397.40M395.30,138.90V143.50" stroke="#202020" stroke-width="0.82" fill="none"/>
<path d="M397.40,147.30H407.80M402.80,145.00V149.60" stroke="#202020" stroke-width="0.82" fill="none"/>
<path d="M407.80,158.20H418.80M413.50,155.30V161.10" stroke="#202020" stroke-width="0.82" fill="none"/>
<path d="M418.80,162.80H422.70M421.10,158.40V167.20" stroke="#202020" stroke-width="0.82" fill="none"/>
<path d="M555.80,136.50H571.10M563.50,134.70V138.30" stroke="#202020" stroke-width="0.82" fill="none"/>
<path d="M571.10,140.20H585.50M578.70,138.20V142.20" stroke="#202020" stroke-width="0.82" fill="none"/>
<path d="M585.50,141.90H599.40M592.20,139.90V143.90" stroke="#202020" stroke-width="0.82" fill="none"/>
<path d="M599.40,149.20H612.60M605.80,146.80V151.60" stroke="#202020" stroke-width="0.82" fill="none"/>
<path d="M612.60,155.50H624.70M618.50,153.00V158.00" stroke="#202020" stroke-width="0.82" fill="none"/>
<path d="M624.70,161.90H636.30M630.30,159.30V164.50" stroke="#202020" stroke-width="0.82" fill="none"/>
<path d="M636.30,165.30H650.60M643.40,162.60V168.00" stroke="#202020" stroke-width="0.82" fill="none"/>
<path d="M650.70,171.20H664.70M657.40,168.20V174.20" stroke="#202020" stroke-width="0.82" fill="none"/>
<path d="M664.80,183.30H689.70M677.40,179.70V186.90" stroke="#202020" stroke-width="0.82" fill="none"/>
<path d="M689.00,212.40H737.90M714.80,207.00V217.80" stroke="#202020" stroke-width="0.82" fill="none"/>
<path d="M85.90,51.90C86.33,52.45 87.65,54.10 88.50,55.20C89.35,56.30 90.17,57.58 91.00,58.50C91.83,59.42 92.52,60.15 93.50,60.70C94.48,61.25 95.62,61.55 96.90,61.80C98.18,62.05 99.92,61.97 101.20,62.20C102.48,62.43 103.48,62.57 104.60,63.20C105.72,63.83 106.78,64.93 107.90,66.00C109.02,67.07 110.30,68.70 111.30,69.60C112.30,70.50 113.05,70.95 113.90,71.40C114.75,71.85 115.48,72.22 116.40,72.30C117.32,72.38 118.42,72.35 119.40,71.90C120.38,71.45 121.38,70.63 122.30,69.60C123.22,68.57 124.05,66.98 124.90,65.70C125.75,64.42 126.55,62.77 127.40,61.90C128.25,61.03 129.22,60.57 130.00,60.50C130.78,60.43 131.40,60.77 132.10,61.50C132.80,62.23 133.50,63.55 134.20,64.90C134.90,66.25 135.60,68.37 136.30,69.60C137.00,70.83 137.62,71.82 138.40,72.30C139.18,72.78 140.15,72.57 141.00,72.50C141.85,72.43 142.52,71.83 143.50,71.90C144.48,71.97 146.15,72.65 146.90,72.90C147.65,73.15 147.25,72.82 148.00,73.40C148.75,73.98 150.13,75.50 151.40,76.40C152.67,77.30 154.18,78.33 155.60,78.80C157.02,79.27 158.35,79.20 159.90,79.20C161.45,79.20 163.35,78.73 164.90,78.80C166.45,78.87 167.78,79.37 169.20,79.60C170.62,79.83 172.13,80.20 173.40,80.20C174.67,80.20 175.67,79.98 176.80,79.60C177.93,79.22 179.15,78.40 180.20,77.90C181.25,77.40 182.25,76.78 183.10,76.60C183.95,76.42 184.52,76.42 185.30,76.80C186.08,77.18 186.97,78.10 187.80,78.90C188.63,79.70 189.45,80.87 190.30,81.60C191.15,82.33 191.77,82.87 192.90,83.30C194.03,83.73 195.70,83.93 197.10,84.20C198.50,84.47 199.88,84.53 201.30,84.90C202.72,85.27 204.18,86.05 205.60,86.40C207.02,86.75 208.23,86.87 209.80,87.00C211.37,87.13 213.28,87.07 215.00,87.20C216.72,87.33 218.40,87.58 220.10,87.80C221.80,88.02 223.65,88.35 225.20,88.50C226.75,88.65 228.13,88.80 229.40,88.70C230.67,88.60 231.82,88.03 232.80,87.90C233.78,87.77 234.53,87.65 235.30,87.90C236.07,88.15 236.55,88.87 237.40,89.40C238.25,89.93 239.05,90.63 240.40,91.10C241.75,91.57 243.67,91.85 245.50,92.20C247.33,92.55 249.43,92.78 251.40,93.20C253.37,93.62 255.32,94.22 257.30,94.70C259.28,95.18 261.32,95.72 263.30,96.10C265.28,96.48 267.37,96.75 269.20,97.00C271.03,97.25 272.60,97.28 274.30,97.60C276.00,97.92 277.95,98.50 279.40,98.90C280.85,99.30 281.55,99.53 283.00,100.00C284.45,100.47 286.27,101.10 288.10,101.70C289.93,102.30 292.03,103.08 294.00,103.60C295.97,104.12 297.92,104.42 299.90,104.80C301.88,105.18 303.92,105.50 305.90,105.90C307.88,106.30 309.83,106.70 311.80,107.20C313.77,107.70 315.87,108.32 317.70,108.90C319.53,109.48 321.10,110.07 322.80,110.70C324.50,111.33 326.20,112.08 327.90,112.70C329.60,113.32 331.45,113.92 333.00,114.40C334.55,114.88 335.98,115.38 337.20,115.60C338.42,115.82 339.42,115.80 340.30,115.75C341.18,115.70 341.70,115.81 342.50,115.30C343.30,114.79 344.32,113.22 345.10,112.70C345.88,112.18 346.50,112.12 347.20,112.20C347.90,112.28 348.60,113.18 349.30,113.20C350.00,113.22 350.83,112.93 351.40,112.30C351.97,111.67 352.20,110.80 352.70,109.40C353.20,108.00 353.83,105.32 354.40,103.90C354.97,102.48 355.60,101.67 356.10,100.90C356.60,100.13 357.18,99.57 357.40,99.30C357.60,99.75 358.12,100.68 358.60,102.00C359.08,103.32 359.77,105.33 360.30,107.20C360.83,109.07 361.37,111.82 361.80,113.20C362.23,114.58 362.37,114.97 362.90,115.50C363.43,116.03 364.30,116.32 365.00,116.40C365.70,116.48 366.53,115.70 367.10,116.00C367.67,116.30 367.90,116.98 368.40,118.20C368.90,119.42 369.47,121.45 370.10,123.30C370.73,125.15 371.63,127.80 372.20,129.30C372.77,130.80 372.92,131.35 373.50,132.30C374.08,133.25 374.72,134.12 375.70,135.00C376.68,135.88 378.07,136.82 379.40,137.60C380.73,138.38 382.27,139.10 383.70,139.70C385.13,140.30 386.55,140.86 388.00,141.20C389.45,141.54 391.17,141.65 392.40,141.75C393.63,141.85 394.90,141.79 395.40,141.80C395.98,142.27 397.67,143.57 398.90,144.60C400.13,145.63 400.37,145.87 402.80,148.00C405.23,150.13 410.38,154.85 413.50,157.40C416.62,159.95 420.17,162.32 421.50,163.30" fill="none" stroke="#ff0000" stroke-width="1.25" stroke-linejoin="round" />
<path d="M563.10,136.90C565.13,137.40 571.00,138.78 575.30,139.90C579.60,141.02 584.38,142.27 588.90,143.60C593.42,144.93 597.90,146.35 602.40,147.90C606.90,149.45 611.38,151.13 615.90,152.90C620.42,154.67 624.98,156.52 629.50,158.50C634.02,160.48 638.48,162.62 643.00,164.80C647.52,166.98 652.08,169.20 656.60,171.60C661.12,174.00 665.58,176.58 670.10,179.20C674.62,181.82 679.22,184.77 683.70,187.30C688.18,189.83 691.82,191.53 697.00,194.40C702.18,197.27 711.83,202.82 714.80,204.50" fill="none" stroke="#ff0000" stroke-width="1.25" stroke-linejoin="round" />
</g>
<clipPath id="cp2"><rect x="71" y="292" width="758.4" height="98.3"/></clipPath>
<g clip-path="url(#cp2)">
<path d="M84.55,368.00H86.85M85.70,355.95V380.05" stroke="#1c1c1c" stroke-width="0.82" fill="none"/>
<path d="M88.14,375.90H90.46M89.30,363.85V387.95" stroke="#1c1c1c" stroke-width="0.82" fill="none"/>
<path d="M91.34,354.80H93.66M92.50,342.75V366.85" stroke="#1c1c1c" stroke-width="0.82" fill="none"/>
<path d="M94.33,346.10H96.67M95.50,334.05V358.15" stroke="#1c1c1c" stroke-width="0.82" fill="none"/>
<path d="M97.23,350.50H99.57M98.40,338.45V362.55" stroke="#1c1c1c" stroke-width="0.82" fill="none"/>
<path d="M100.42,294.10H102.78M101.60,282.05V306.15" stroke="#1c1c1c" stroke-width="0.82" fill="none"/>
<path d="M103.32,353.00H105.68M104.50,340.95V365.05" stroke="#1c1c1c" stroke-width="0.82" fill="none"/>
<path d="M106.31,349.50H108.69M107.50,337.45V361.55" stroke="#1c1c1c" stroke-width="0.82" fill="none"/>
<path d="M109.31,357.50H111.69M110.50,345.45V369.55" stroke="#1c1c1c" stroke-width="0.82" fill="none"/>
<path d="M112.20,366.40H114.60M113.40,354.35V378.45" stroke="#1c1c1c" stroke-width="0.82" fill="none"/>
<path d="M115.20,350.20H117.60M116.40,338.15V362.25" stroke="#1c1c1c" stroke-width="0.82" fill="none"/>
<path d="M118.09,330.50H120.51M119.30,318.45V342.55" stroke="#1c1c1c" stroke-width="0.82" fill="none"/>
<path d="M121.09,330.50H123.51M122.30,318.45V342.55" stroke="#1c1c1c" stroke-width="0.82" fill="none"/>
<path d="M123.78,351.80H126.22M125.00,339.75V363.85" stroke="#1c1c1c" stroke-width="0.82" fill="none"/>
<path d="M126.48,316.10H128.92M127.70,304.05V328.15" stroke="#1c1c1c" stroke-width="0.82" fill="none"/>
<path d="M129.47,360.50H131.93M130.70,348.45V372.55" stroke="#1c1c1c" stroke-width="0.82" fill="none"/>
<path d="M132.17,350.90H134.63M133.40,338.85V362.95" stroke="#1c1c1c" stroke-width="0.82" fill="none"/>
<path d="M134.66,364.50H137.14M135.90,352.45V376.55" stroke="#1c1c1c" stroke-width="0.82" fill="none"/>
<path d="M137.16,351.80H139.64M138.40,339.75V363.85" stroke="#1c1c1c" stroke-width="0.82" fill="none"/>
<path d="M139.85,341.80H142.35M141.10,329.75V353.85" stroke="#1c1c1c" stroke-width="0.82" fill="none"/>
<path d="M142.15,342.70H144.65M143.40,330.65V354.75" stroke="#1c1c1c" stroke-width="0.82" fill="none"/>
<path d="M144.84,371.10H147.36M146.10,359.05V383.15" stroke="#1c1c1c" stroke-width="0.82" fill="none"/>
<path d="M147.14,334.30H149.66M148.40,322.25V346.35" stroke="#1c1c1c" stroke-width="0.82" fill="none"/>
<path d="M149.84,349.30H152.36M151.10,337.25V361.35" stroke="#1c1c1c" stroke-width="0.82" fill="none"/>
<path d="M152.33,347.30H154.87M153.60,335.25V359.35" stroke="#1c1c1c" stroke-width="0.82" fill="none"/>
<path d="M154.83,359.30H157.37M156.10,347.25V371.35" stroke="#1c1c1c" stroke-width="0.82" fill="none"/>
<path d="M157.32,347.00H159.88M158.60,334.95V359.05" stroke="#1c1c1c" stroke-width="0.82" fill="none"/>
<path d="M159.62,352.50H162.18M160.90,340.45V364.55" stroke="#1c1c1c" stroke-width="0.82" fill="none"/>
<path d="M161.82,362.30H164.38M163.10,350.25V374.35" stroke="#1c1c1c" stroke-width="0.82" fill="none"/>
<path d="M163.91,353.60H166.49M165.20,341.55V365.65" stroke="#1c1c1c" stroke-width="0.82" fill="none"/>
<path d="M166.21,326.40H168.79M167.50,314.35V338.45" stroke="#1c1c1c" stroke-width="0.82" fill="none"/>
<path d="M168.50,356.40H171.10M169.80,344.35V368.45" stroke="#1c1c1c" stroke-width="0.82" fill="none"/>
<path d="M171.00,351.40H173.60M172.30,339.35V363.45" stroke="#1c1c1c" stroke-width="0.82" fill="none"/>
<path d="M173.00,357.50H175.60M174.30,345.45V369.55" stroke="#1c1c1c" stroke-width="0.82" fill="none"/>
<path d="M175.29,363.90H177.91M176.60,351.85V375.95" stroke="#1c1c1c" stroke-width="0.82" fill="none"/>
<path d="M177.59,335.50H180.21M178.90,323.45V347.55" stroke="#1c1c1c" stroke-width="0.82" fill="none"/>
<path d="M179.78,334.30H182.42M181.10,322.25V346.35" stroke="#1c1c1c" stroke-width="0.82" fill="none"/>
<path d="M181.88,346.10H184.52M183.20,334.05V358.15" stroke="#1c1c1c" stroke-width="0.82" fill="none"/>
<path d="M183.88,379.80H186.52M185.20,367.75V391.85" stroke="#1c1c1c" stroke-width="0.82" fill="none"/>
<path d="M185.97,350.20H188.63M187.30,338.15V362.25" stroke="#1c1c1c" stroke-width="0.82" fill="none"/>
<path d="M187.97,339.50H190.63M189.30,327.45V351.55" stroke="#1c1c1c" stroke-width="0.82" fill="none"/>
<path d="M190.07,337.30H192.73M191.40,325.25V349.35" stroke="#1c1c1c" stroke-width="0.82" fill="none"/>
<path d="M192.26,348.40H194.94M193.60,336.35V360.45" stroke="#1c1c1c" stroke-width="0.82" fill="none"/>
<path d="M194.36,341.10H197.04M195.70,329.05V353.15" stroke="#1c1c1c" stroke-width="0.82" fill="none"/>
<path d="M196.36,354.10H199.04M197.70,342.05V366.15" stroke="#1c1c1c" stroke-width="0.82" fill="none"/>
<path d="M198.45,332.00H201.15M199.80,319.95V344.05" stroke="#1c1c1c" stroke-width="0.82" fill="none"/>
<path d="M200.45,345.20H203.15M201.80,333.15V357.25" stroke="#1c1c1c" stroke-width="0.82" fill="none"/>
<path d="M202.25,334.80H204.95M203.60,322.75V346.85" stroke="#1c1c1c" stroke-width="0.82" fill="none"/>
<path d="M204.34,355.50H207.06M205.70,343.45V367.55" stroke="#1c1c1c" stroke-width="0.82" fill="none"/>
<path d="M206.14,374.30H208.86M207.50,362.25V386.35" stroke="#1c1c1c" stroke-width="0.82" fill="none"/>
<path d="M208.14,340.20H210.86M209.50,328.15V352.25" stroke="#1c1c1c" stroke-width="0.82" fill="none"/>
<path d="M210.03,342.50H212.77M211.40,330.45V354.55" stroke="#1c1c1c" stroke-width="0.82" fill="none"/>
<path d="M211.83,354.10H214.57M213.20,342.05V366.15" stroke="#1c1c1c" stroke-width="0.82" fill="none"/>
<path d="M213.63,346.40H216.37M215.00,334.35V358.45" stroke="#1c1c1c" stroke-width="0.82" fill="none"/>
<path d="M215.42,336.10H218.18M216.80,324.05V348.15" stroke="#1c1c1c" stroke-width="0.82" fill="none"/>
<path d="M217.22,344.10H219.98M218.60,332.05V356.15" stroke="#1c1c1c" stroke-width="0.82" fill="none"/>
<path d="M219.12,354.10H221.88M220.50,342.05V366.15" stroke="#1c1c1c" stroke-width="0.82" fill="none"/>
<path d="M220.91,354.10H223.69M222.30,342.05V366.15" stroke="#1c1c1c" stroke-width="0.82" fill="none"/>
<path d="M222.71,339.30H225.49M224.10,327.25V351.35" stroke="#1c1c1c" stroke-width="0.82" fill="none"/>
<path d="M224.51,345.20H227.29M225.90,333.15V357.25" stroke="#1c1c1c" stroke-width="0.82" fill="none"/>
<path d="M226.10,336.60H228.90M227.50,324.55V348.65" stroke="#1c1c1c" stroke-width="0.82" fill="none"/>
<path d="M229.50,365.00H232.30M230.90,352.95V377.05" stroke="#1c1c1c" stroke-width="0.82" fill="none"/>
<path d="M233.59,362.30H236.41M235.00,350.25V374.35" stroke="#1c1c1c" stroke-width="0.82" fill="none"/>
<path d="M237.88,368.40H240.72M239.30,356.35V380.45" stroke="#1c1c1c" stroke-width="0.82" fill="none"/>
<path d="M242.18,347.00H245.02M243.60,334.95V359.05" stroke="#1c1c1c" stroke-width="0.82" fill="none"/>
<path d="M246.07,374.20H248.93M247.50,362.15V386.25" stroke="#1c1c1c" stroke-width="0.82" fill="none"/>
<path d="M249.96,368.00H252.84M251.40,355.95V380.05" stroke="#1c1c1c" stroke-width="0.82" fill="none"/>
<path d="M254.06,371.40H256.94M255.50,359.35V383.45" stroke="#1c1c1c" stroke-width="0.82" fill="none"/>
<path d="M257.85,359.30H260.75M259.30,347.25V371.35" stroke="#1c1c1c" stroke-width="0.82" fill="none"/>
<path d="M261.74,351.40H264.66M263.20,339.35V363.45" stroke="#1c1c1c" stroke-width="0.82" fill="none"/>
<path d="M265.54,350.90H268.46M267.00,338.85V362.95" stroke="#1c1c1c" stroke-width="0.82" fill="none"/>
<path d="M269.03,350.90H271.97M270.50,338.85V362.95" stroke="#1c1c1c" stroke-width="0.82" fill="none"/>
<path d="M272.82,349.30H275.78M274.30,337.25V361.35" stroke="#1c1c1c" stroke-width="0.82" fill="none"/>
<path d="M276.52,355.50H279.48M278.00,343.45V367.55" stroke="#1c1c1c" stroke-width="0.82" fill="none"/>
<path d="M279.91,376.60H282.89M281.40,364.55V388.65" stroke="#1c1c1c" stroke-width="0.82" fill="none"/>
<path d="M283.31,338.40H286.29M284.80,326.35V350.45" stroke="#1c1c1c" stroke-width="0.82" fill="none"/>
<path d="M286.70,350.70H289.70M288.20,338.65V362.75" stroke="#1c1c1c" stroke-width="0.82" fill="none"/>
<path d="M290.09,347.30H293.11M291.60,335.25V359.35" stroke="#1c1c1c" stroke-width="0.82" fill="none"/>
<path d="M293.29,361.60H296.31M294.80,349.55V373.65" stroke="#1c1c1c" stroke-width="0.82" fill="none"/>
<path d="M296.68,344.50H299.72M298.20,332.45V356.55" stroke="#1c1c1c" stroke-width="0.82" fill="none"/>
<path d="M299.88,372.30H302.92M301.40,360.25V384.35" stroke="#1c1c1c" stroke-width="0.82" fill="none"/>
<path d="M302.97,346.40H306.03M304.50,334.35V358.45" stroke="#1c1c1c" stroke-width="0.82" fill="none"/>
<path d="M305.97,355.50H309.03M307.50,343.45V367.55" stroke="#1c1c1c" stroke-width="0.82" fill="none"/>
<path d="M309.16,346.10H312.24M310.70,334.05V358.15" stroke="#1c1c1c" stroke-width="0.82" fill="none"/>
<path d="M312.06,344.50H315.14M313.60,332.45V356.55" stroke="#1c1c1c" stroke-width="0.82" fill="none"/>
<path d="M315.05,340.50H318.15M316.60,328.45V352.55" stroke="#1c1c1c" stroke-width="0.82" fill="none"/>
<path d="M317.95,347.30H321.05M319.50,335.25V359.35" stroke="#1c1c1c" stroke-width="0.82" fill="none"/>
<path d="M320.94,335.50H324.06M322.50,323.45V347.55" stroke="#1c1c1c" stroke-width="0.82" fill="none"/>
<path d="M323.94,358.40H327.06M325.50,346.35V370.45" stroke="#1c1c1c" stroke-width="0.82" fill="none"/>
<path d="M326.63,358.90H329.77M328.20,346.85V370.95" stroke="#1c1c1c" stroke-width="0.82" fill="none"/>
<path d="M329.33,370.00H332.47M330.90,357.95V382.05" stroke="#1c1c1c" stroke-width="0.82" fill="none"/>
<path d="M332.02,376.00H335.18M333.60,363.95V388.05" stroke="#1c1c1c" stroke-width="0.82" fill="none"/>
<path d="M334.82,355.20H337.98M336.40,343.15V367.25" stroke="#1c1c1c" stroke-width="0.82" fill="none"/>
<path d="M337.71,333.20H340.89M339.30,321.15V345.25" stroke="#1c1c1c" stroke-width="0.82" fill="none"/>
<path d="M340.21,339.10H343.39M341.80,327.05V351.15" stroke="#1c1c1c" stroke-width="0.82" fill="none"/>
<path d="M342.90,365.20H346.10M344.50,353.15V377.25" stroke="#1c1c1c" stroke-width="0.82" fill="none"/>
<path d="M345.70,363.40H348.90M347.30,351.35V375.45" stroke="#1c1c1c" stroke-width="0.82" fill="none"/>
<path d="M348.19,352.00H351.41M349.80,339.95V364.05" stroke="#1c1c1c" stroke-width="0.82" fill="none"/>
<path d="M350.69,374.30H353.91M352.30,362.25V386.35" stroke="#1c1c1c" stroke-width="0.82" fill="none"/>
<path d="M353.18,371.40H356.42M354.80,359.35V383.45" stroke="#1c1c1c" stroke-width="0.82" fill="none"/>
<path d="M355.88,348.20H359.12M357.50,336.15V360.25" stroke="#1c1c1c" stroke-width="0.82" fill="none"/>
<path d="M358.38,380.90H361.62M360.00,368.85V392.95" stroke="#1c1c1c" stroke-width="0.82" fill="none"/>
<path d="M360.87,388.40H364.13M362.50,376.35V400.45" stroke="#1c1c1c" stroke-width="0.82" fill="none"/>
<path d="M363.17,345.20H366.43M364.80,333.15V357.25" stroke="#1c1c1c" stroke-width="0.82" fill="none"/>
<path d="M365.66,333.20H368.94M367.30,321.15V345.25" stroke="#1c1c1c" stroke-width="0.82" fill="none"/>
<path d="M367.86,338.40H371.14M369.50,326.35V350.45" stroke="#1c1c1c" stroke-width="0.82" fill="none"/>
<path d="M370.36,363.20H373.64M372.00,351.15V375.25" stroke="#1c1c1c" stroke-width="0.82" fill="none"/>
<path d="M373.20,345.20H378.20M375.70,333.15V357.25" stroke="#1c1c1c" stroke-width="0.82" fill="none"/>
<path d="M377.30,318.60H382.70M380.00,306.55V330.65" stroke="#1c1c1c" stroke-width="0.82" fill="none"/>
<path d="M382.30,359.30H393.20M387.50,347.25V371.35" stroke="#1c1c1c" stroke-width="0.82" fill="none"/>
<path d="M393.20,347.30H397.70M395.70,335.25V359.35" stroke="#1c1c1c" stroke-width="0.82" fill="none"/>
<path d="M397.70,345.20H407.70M402.30,333.15V357.25" stroke="#1c1c1c" stroke-width="0.82" fill="none"/>
<path d="M407.50,360.50H419.30M413.60,348.45V372.55" stroke="#1c1c1c" stroke-width="0.82" fill="none"/>
<path d="M419.30,348.40H423.40M421.40,336.35V360.45" stroke="#1c1c1c" stroke-width="0.82" fill="none"/>
<path d="M555.70,349.80H571.60M563.60,337.75V361.85" stroke="#1c1c1c" stroke-width="0.82" fill="none"/>
<path d="M571.60,349.50H585.90M578.40,337.45V361.55" stroke="#1c1c1c" stroke-width="0.82" fill="none"/>
<path d="M585.40,331.40H600.00M592.50,319.35V343.45" stroke="#1c1c1c" stroke-width="0.82" fill="none"/>
<path d="M600.00,351.60H612.50M605.70,339.55V363.65" stroke="#1c1c1c" stroke-width="0.82" fill="none"/>
<path d="M612.50,357.30H624.50M618.40,345.25V369.35" stroke="#1c1c1c" stroke-width="0.82" fill="none"/>
<path d="M624.50,365.70H636.40M630.50,353.65V377.75" stroke="#1c1c1c" stroke-width="0.82" fill="none"/>
<path d="M636.40,352.50H650.50M643.40,340.45V364.55" stroke="#1c1c1c" stroke-width="0.82" fill="none"/>
<path d="M650.40,349.30H664.50M657.50,337.25V361.35" stroke="#1c1c1c" stroke-width="0.82" fill="none"/>
<path d="M664.20,356.10H690.00M677.50,344.05V368.15" stroke="#1c1c1c" stroke-width="0.82" fill="none"/>
<path d="M689.30,374.30H738.20M714.80,362.25V386.35" stroke="#1c1c1c" stroke-width="0.82" fill="none"/>
</g>
</svg>
</body></html>
